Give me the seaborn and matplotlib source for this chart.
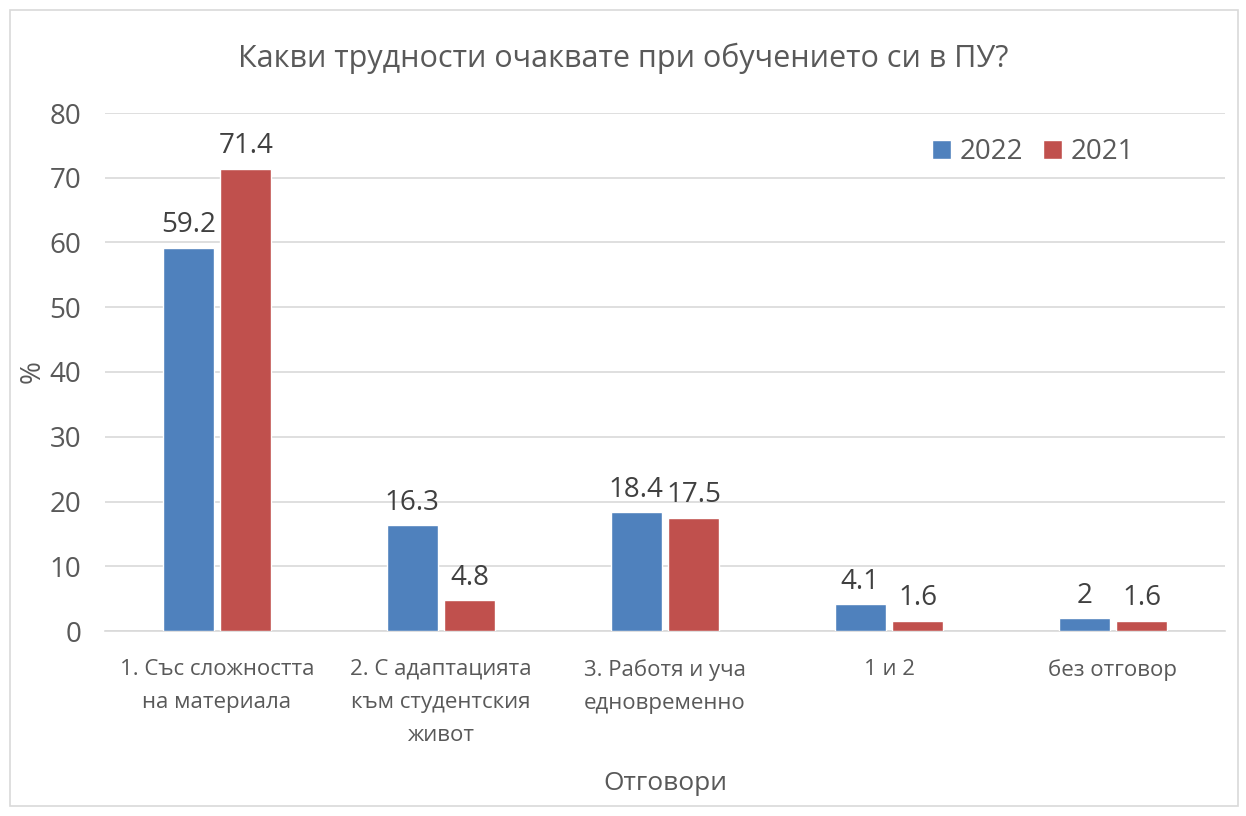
import numpy as np
import pandas as pd
import seaborn as sns
from matplotlib import pyplot as plt
from matplotlib.patches import Rectangle

categories = ['1. Със сложността\nна материала',
              '2. С адаптацията\nкъм студентския\nживот',
              '3. Работя и уча\nедновременно',
              '1 и 2',
              'без отговор']
vals_2022 = [59.2, 16.3, 18.4, 4.1, 2]
vals_2021 = [71.4, 4.8, 17.5, 1.6, 1.6]
years = ['2022', '2021']

df = pd.DataFrame({
    'cat': categories * 2,
    'year': [years[0]] * 5 + [years[1]] * 5,
    'val': vals_2022 + vals_2021,
})

sns.set_style('white')
plt.rcParams['font.family'] = ['Open Sans', 'DejaVu Sans']
txt = '#595959'

fig = plt.figure(figsize=(12.46, 8.16), dpi=100)
ax = fig.add_axes([105/1246, 1 - 631/816, 1120/1246, (631 - 113)/816])

sns.barplot(data=df, x='cat', y='val', hue='year', hue_order=years,
            palette=['#4f81bd', '#c0504d'], width=0.513, gap=0.11,
            saturation=1, ax=ax, zorder=3)

for cont in ax.containers:
    labels = [('%g' % v) for v in cont.datavalues]
    ax.bar_label(cont, labels=labels, padding=6, fontsize=20, color='#404040')

ax.set_xlim(-0.5, 4.5)
ax.set_ylim(0, 80)
ax.set_yticks(range(0, 81, 10))
ax.grid(axis='y', color='#d9d9d9', linewidth=1.2, zorder=0)
for s in ['top', 'right', 'left']:
    ax.spines[s].set_visible(False)
ax.spines['bottom'].set_color('#d9d9d9')
ax.spines['bottom'].set_linewidth(1.2)
ax.tick_params(axis='y', labelsize=20, colors=txt, length=0, pad=17)
ax.tick_params(axis='x', labelsize=16, colors=txt, length=0, pad=20)
for t in ax.get_xticklabels():
    t.set_linespacing(1.75)

ax.set_xlabel('Отговори', fontsize=19, color=txt, labelpad=18)
ax.set_ylabel('%', fontsize=20, color=txt, va='center')
ax.yaxis.set_label_coords(-72/1120, 0.5)
fig.text(0.5, 1 - 58/816, 'Какви трудности очаквате при обучението си в ПУ?',
         ha='center', va='center', fontsize=22, color=txt)

ax.legend(loc='upper right', bbox_to_anchor=(0.941, 1.0), ncol=2,
          frameon=False, fontsize=20, handlelength=0.7, handleheight=0.7,
          handletextpad=0.3, columnspacing=0.7, labelcolor=txt)

fig.patches.append(Rectangle((10/1246, 10/816), 1228/1246, 796/816,
                             transform=fig.transFigure, fill=False,
                             edgecolor='#d9d9d9', linewidth=1.2))

fig.savefig('out.png', dpi=100, facecolor='white')
